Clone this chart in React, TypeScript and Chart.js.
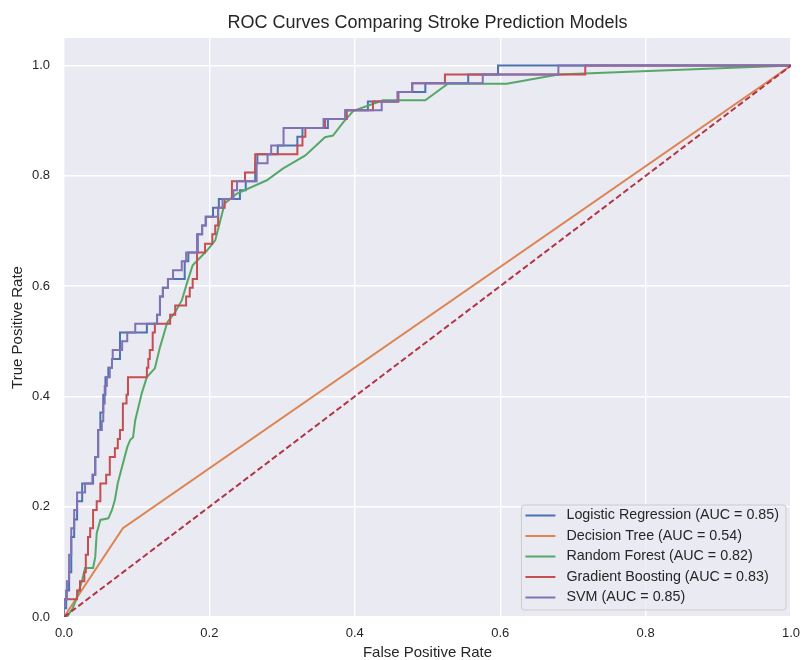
import { useEffect, useRef } from 'react';
import { Chart, registerables } from 'chart.js';

Chart.register(...registerables);

const TITLE = 'ROC Curves Comparing Stroke Prediction Models';
const X_LABEL = 'False Positive Rate';
const Y_LABEL = 'True Positive Rate';

const MODEL_NAMES = ['Logistic Regression', 'Decision Tree', 'Random Forest', 'Gradient Boosting', 'SVM'];
const AUC = [0.85, 0.54, 0.82, 0.83, 0.85];

const X_TICKS = [0, 0.2, 0.4, 0.6, 0.8, 1.0];
const Y_TICKS = [0, 0.2, 0.4, 0.6, 0.8, 1.0];

// Step curves: each point is (FPR, TPR) reached after a vertical jump
const LR_FPR = [0, 0, 0.003, 0.007, 0.010, 0.014, 0.018, 0.025, 0.040, 0.043, 0.047, 0.050, 0.054, 0.057, 0.061, 0.066, 0.077, 0.114, 0.128, 0.132, 0.136, 0.143, 0.166, 0.171, 0.184, 0.190, 0.195, 0.205, 0.213, 0.242, 0.250, 0.263, 0.266, 0.294, 0.321, 0.328, 0.363, 0.387, 0.418, 0.459, 0.497, 0.556, 0.597, 1];
const LR_TPR = [0, 0.016, 0.048, 0.081, 0.145, 0.177, 0.210, 0.242, 0.258, 0.290, 0.339, 0.371, 0.403, 0.435, 0.452, 0.468, 0.516, 0.532, 0.548, 0.581, 0.597, 0.613, 0.645, 0.661, 0.694, 0.710, 0.726, 0.742, 0.758, 0.774, 0.790, 0.823, 0.839, 0.855, 0.871, 0.887, 0.903, 0.919, 0.935, 0.952, 0.968, 0.984, 1, 1];

const SVM_FPR = [0, 0, 0.004, 0.007, 0.010, 0.014, 0.018, 0.029, 0.039, 0.043, 0.047, 0.052, 0.054, 0.056, 0.059, 0.063, 0.066, 0.067, 0.080, 0.087, 0.098, 0.128, 0.132, 0.136, 0.143, 0.150, 0.162, 0.168, 0.183, 0.190, 0.195, 0.212, 0.218, 0.233, 0.238, 0.265, 0.280, 0.285, 0.302, 0.357, 0.387, 0.437, 0.459, 0.479, 0.576, 0.680, 1];
const SVM_TPR = [0, 0.032, 0.065, 0.113, 0.161, 0.194, 0.226, 0.242, 0.258, 0.290, 0.339, 0.355, 0.387, 0.419, 0.435, 0.452, 0.468, 0.484, 0.500, 0.516, 0.532, 0.548, 0.581, 0.597, 0.613, 0.629, 0.645, 0.661, 0.694, 0.710, 0.726, 0.742, 0.758, 0.774, 0.790, 0.823, 0.839, 0.855, 0.887, 0.903, 0.919, 0.935, 0.952, 0.968, 0.984, 1, 1];

const GB_FPR = [0, 0, 0.018, 0.022, 0.028, 0.030, 0.033, 0.036, 0.040, 0.045, 0.050, 0.058, 0.063, 0.070, 0.074, 0.077, 0.081, 0.086, 0.088, 0.114, 0.116, 0.118, 0.122, 0.125, 0.146, 0.153, 0.168, 0.173, 0.177, 0.183, 0.194, 0.204, 0.208, 0.212, 0.221, 0.231, 0.249, 0.263, 0.321, 0.328, 0.332, 0.359, 0.389, 0.425, 0.460, 0.479, 0.524, 0.717, 1];
const GB_TPR = [0, 0.032, 0.048, 0.065, 0.081, 0.113, 0.145, 0.161, 0.194, 0.210, 0.242, 0.258, 0.290, 0.306, 0.323, 0.339, 0.387, 0.403, 0.435, 0.452, 0.468, 0.484, 0.516, 0.532, 0.548, 0.565, 0.581, 0.597, 0.613, 0.661, 0.677, 0.694, 0.710, 0.742, 0.758, 0.790, 0.806, 0.839, 0.855, 0.871, 0.887, 0.903, 0.919, 0.935, 0.952, 0.968, 0.984, 1, 1];

// Polyline curves
const RF_FPR = [0, 0.004, 0.012, 0.018, 0.025, 0.029, 0.040, 0.043, 0.045, 0.050, 0.061, 0.066, 0.070, 0.074, 0.087, 0.091, 0.095, 0.098, 0.107, 0.114, 0.125, 0.132, 0.142, 0.153, 0.162, 0.169, 0.177, 0.197, 0.208, 0.215, 0.221, 0.238, 0.279, 0.301, 0.332, 0.359, 0.370, 0.384, 0.398, 0.439, 0.497, 0.528, 0.609, 0.680, 1];
const RF_TPR = [0, 0, 0.016, 0.036, 0.067, 0.089, 0.089, 0.109, 0.152, 0.176, 0.179, 0.194, 0.212, 0.243, 0.308, 0.321, 0.326, 0.357, 0.406, 0.435, 0.451, 0.489, 0.534, 0.553, 0.574, 0.605, 0.638, 0.665, 0.683, 0.719, 0.750, 0.768, 0.792, 0.813, 0.837, 0.870, 0.873, 0.897, 0.918, 0.937, 0.937, 0.967, 0.967, 0.984, 1];

const DT_FPR = [0, 0.081, 1];
const DT_TPR = [0, 0.161, 1];

const CHANCE_FPR = [0, 1];
const CHANCE_TPR = [0, 1];

const COLORS = ['#4c72b0', '#dd8452', '#55a868', '#c44e52', '#8172b3'];
const CHANCE_COLOR = '#b33444';
const FONT = "'Liberation Sans', Arial, Helvetica, sans-serif";
const TEXT_COLOR = '#262626';
const LINE_W = 2;

const pts = (xs: number[], ys: number[]) => xs.map((x, i) => ({ x, y: ys[i] }));

const plotBg = {
  id: 'plotBg',
  beforeDraw(chart: any) {
    const { ctx, chartArea } = chart;
    const { left, top, right, bottom } = chartArea;
    ctx.save();
    ctx.fillStyle = '#ffffff';
    ctx.fillRect(0, 0, chart.width, chart.height);
    ctx.fillStyle = '#eaeaf2';
    ctx.fillRect(left, top, right - left, bottom - top);
    ctx.restore();
  },
};

const axesTitle = {
  id: 'axesTitle',
  afterDraw(chart: any) {
    const { ctx, chartArea } = chart;
    ctx.save();
    ctx.font = `18px ${FONT}`;
    ctx.fillStyle = TEXT_COLOR;
    ctx.textAlign = 'center';
    ctx.textBaseline = 'middle';
    ctx.fillText(TITLE, (chartArea.left + chartArea.right) / 2, 23);
    ctx.restore();
  },
};

const boxLegend = {
  id: 'boxLegend',
  afterDatasetsDraw(chart: any) {
    const { ctx, chartArea } = chart;
    const items = chart.data.datasets.filter((d: any) => d.label);
    items.sort((a: any, b: any) => a.legendIndex - b.legendIndex);
    ctx.save();
    ctx.font = `14.3px ${FONT}`;
    let maxW = 0;
    items.forEach((d: any) => { maxW = Math.max(maxW, ctx.measureText(d.label).width); });
    const rowH = 20.5;
    const w = 45 + maxW + 7;
    const h = 10.5 + rowH * (items.length - 1) + 12.5;
    const x = chartArea.right - 5 - w;
    const y = chartArea.bottom - 7 - h;
    const r = 3;
    ctx.beginPath();
    ctx.moveTo(x + r, y);
    ctx.lineTo(x + w - r, y);
    ctx.arcTo(x + w, y, x + w, y + r, r);
    ctx.lineTo(x + w, y + h - r);
    ctx.arcTo(x + w, y + h, x + w - r, y + h, r);
    ctx.lineTo(x + r, y + h);
    ctx.arcTo(x, y + h, x, y + h - r, r);
    ctx.lineTo(x, y + r);
    ctx.arcTo(x, y, x + r, y, r);
    ctx.closePath();
    ctx.fillStyle = 'rgba(234,234,242,0.8)';
    ctx.fill();
    ctx.strokeStyle = '#cccccc';
    ctx.lineWidth = 1;
    ctx.stroke();
    items.forEach((d: any, i: number) => {
      const cy = y + 10.5 + i * rowH;
      ctx.beginPath();
      ctx.strokeStyle = d.borderColor;
      ctx.lineWidth = LINE_W;
      ctx.moveTo(x + 4, cy);
      ctx.lineTo(x + 34, cy);
      ctx.stroke();
      ctx.fillStyle = TEXT_COLOR;
      ctx.textBaseline = 'middle';
      ctx.textAlign = 'left';
      ctx.fillText(d.label, x + 45, cy);
    });
    ctx.restore();
  },
};

export default function App() {
  const ref = useRef<HTMLCanvasElement | null>(null);

  useEffect(() => {
    document.body.style.margin = '0';
    const canvas = ref.current;
    if (!canvas) return;

    const models = [
      { fpr: LR_FPR, tpr: LR_TPR, stepped: 'before' },
      { fpr: DT_FPR, tpr: DT_TPR, stepped: false },
      { fpr: RF_FPR, tpr: RF_TPR, stepped: false },
      { fpr: GB_FPR, tpr: GB_TPR, stepped: 'before' },
      { fpr: SVM_FPR, tpr: SVM_TPR, stepped: 'before' },
    ];

    const datasets: any[] = models.map((m, i) => ({
      label: `${MODEL_NAMES[i]} (AUC = ${AUC[i].toFixed(2)})`,
      legendIndex: i,
      data: pts(m.fpr, m.tpr),
      borderColor: COLORS[i],
      backgroundColor: COLORS[i],
      borderWidth: LINE_W,
      pointRadius: 0,
      pointHoverRadius: 0,
      showLine: true,
      tension: 0,
      stepped: m.stepped,
      fill: false,
      order: 6 - i,
    }));
    datasets.push({
      label: '',
      data: pts(CHANCE_FPR, CHANCE_TPR),
      borderColor: CHANCE_COLOR,
      backgroundColor: CHANCE_COLOR,
      borderWidth: LINE_W,
      borderDash: [6, 3],
      pointRadius: 0,
      showLine: true,
      fill: false,
      order: 0,
    });

    const chart = new Chart(canvas, {
      type: 'scatter',
      data: { datasets },
      plugins: [plotBg, boxLegend, axesTitle],
      options: {
        responsive: false,
        animation: false,
        devicePixelRatio: 1,
        layout: { padding: { left: 0, right: 12, top: 38, bottom: 0 } },
        plugins: {
          legend: { display: false },
          tooltip: { enabled: false },
          title: { display: false },
        },
        scales: {
          x: {
            type: 'linear',
            min: 0,
            max: 1,
            afterFit: (s: any) => { s.height = 43; s.paddingLeft = 0; s.paddingRight = 0; },
            afterBuildTicks: (s: any) => { s.ticks = X_TICKS.map((v) => ({ value: v })); },
            grid: { color: '#ffffff', lineWidth: 1.4, drawTicks: false },
            border: { display: false },
            ticks: {
              padding: 9,
              color: TEXT_COLOR,
              font: { family: FONT, size: 13 },
              callback: (v: any) => Number(v).toFixed(1),
              maxRotation: 0,
            },
            title: {
              display: true,
              text: X_LABEL,
              color: TEXT_COLOR,
              font: { family: FONT, size: 15 },
              padding: { top: 0, bottom: -2 },
            },
          },
          y: {
            type: 'linear',
            min: 0,
            max: 1.05,
            afterFit: (s: any) => { s.width = 64; s.paddingTop = 0; s.paddingBottom = 0; },
            afterBuildTicks: (s: any) => { s.ticks = Y_TICKS.map((v) => ({ value: v })); },
            grid: { color: '#ffffff', lineWidth: 1.4, drawTicks: false },
            border: { display: false },
            ticks: {
              padding: 14,
              color: TEXT_COLOR,
              font: { family: FONT, size: 13 },
              callback: (v: any) => Number(v).toFixed(1),
            },
            title: {
              display: true,
              text: Y_LABEL,
              color: TEXT_COLOR,
              font: { family: FONT, size: 15 },
              padding: { top: 8.5, bottom: 0 },
            },
          },
        },
      } as any,
    });

    return () => chart.destroy();
  }, []);

  return <canvas ref={ref} width={803} height={660} style={{ display: 'block' }} />;
}
